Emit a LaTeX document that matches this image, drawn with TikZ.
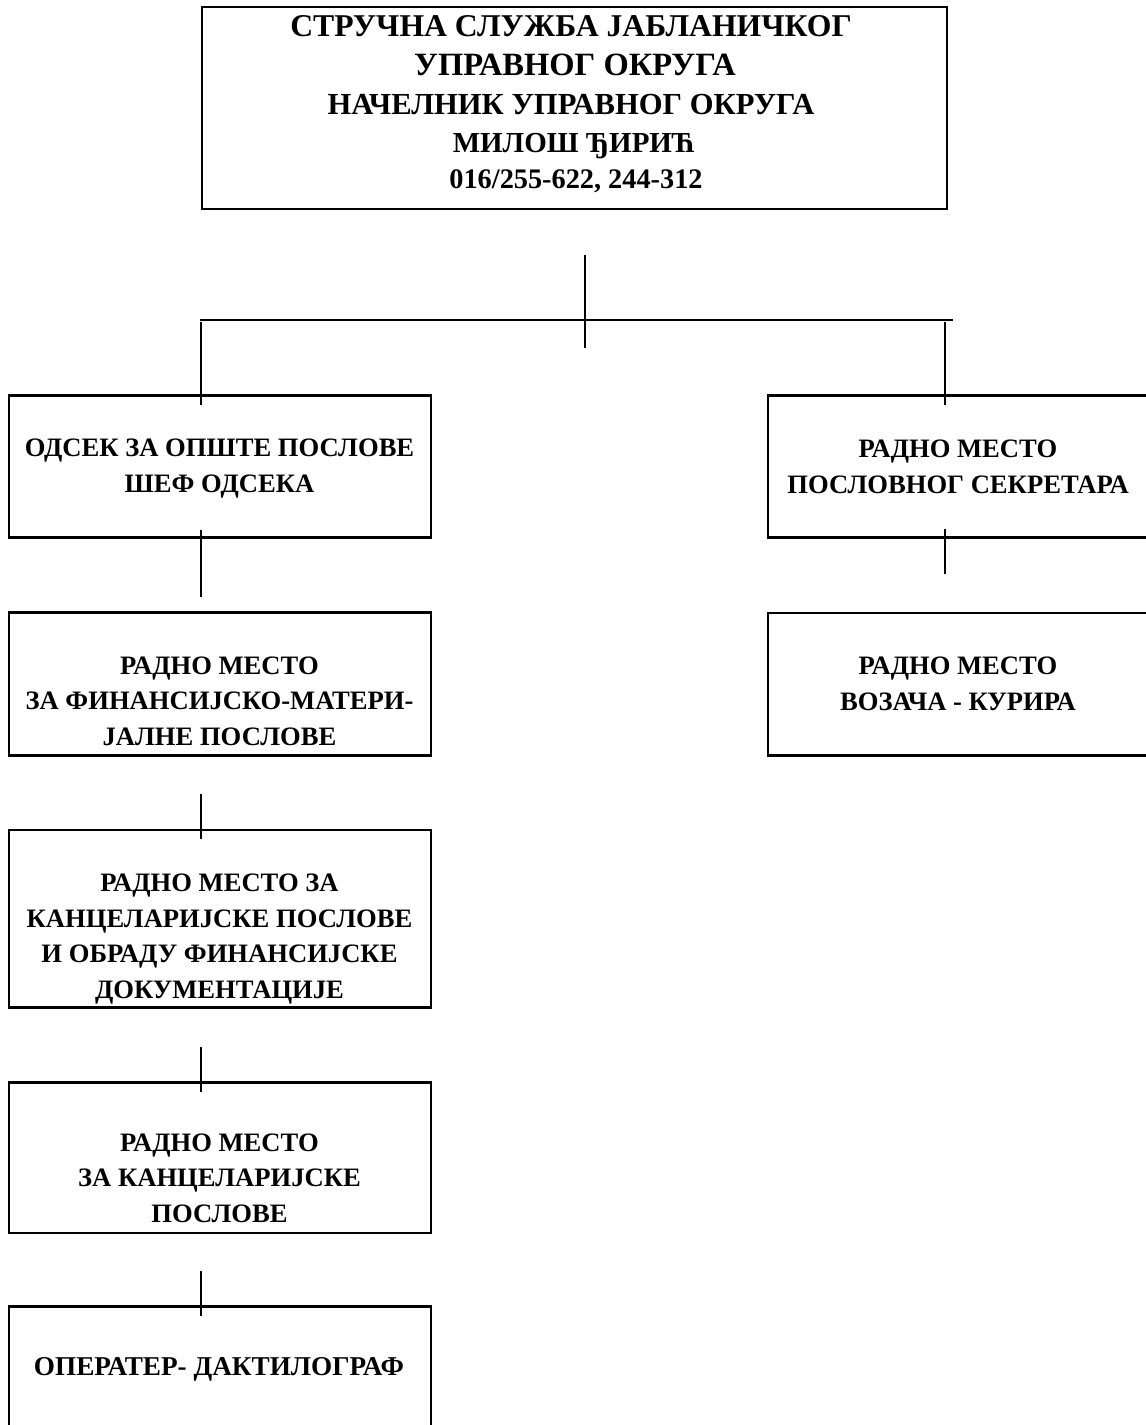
\documentclass[tikz,border=0pt]{standalone}
\usepackage{fontspec}
\setmainfont{Liberation Serif}
\begin{document}
\begin{tikzpicture}[x=1pt,y=-1pt,
  box/.style={draw, line width=2.7pt, rectangle, inner sep=0pt, minimum width=422pt},
  rbox/.style={draw, line width=2.7pt, rectangle, inner sep=0pt, minimum width=392pt},
  conn/.style={line width=2.2pt},
  hline/.style={line width=1.8pt},
  txt/.style={font=\fontsize{26.6}{35.5}\bfseries\selectfont, align=center, inner sep=0pt, anchor=base},
  topline/.style={font=\fontsize{#1}{38}\bfseries\selectfont, inner sep=0pt, anchor=base}]
\useasboundingbox (0,0) rectangle (1146,1425);

% boxes
\node[draw, line width=2.7pt, inner sep=0pt, minimum width=745pt, minimum height=202pt] (top) at (574.5,108) {};
\node[box, minimum height=141.6pt] (b1) at (220,466.5) {};
\node[box, minimum height=143pt] (b2) at (220,684.2) {};
\node[box, minimum height=177.7pt] (b3) at (220,918.85) {};
\node[box, minimum height=150.3pt] (b4) at (220,1157.85) {};
\node[box, minimum height=143.3pt] (b5) at (220,1378.35) {};
\node[rbox, minimum height=141.6pt] (r1) at (964,466.5) {};
\node[rbox, minimum height=142.7pt] (r2) at (964,684.35) {};

% texts of the top box
\node[topline=31.7] (tt1) at (571,36) {СТРУЧНА СЛУЖБА ЈАБЛАНИЧКОГ};
\node[topline=32.5] (tt2) at (575,75) {УПРАВНОГ ОКРУГА};
\node[topline=30.6] (tt3) at (571,114) {НАЧЕЛНИК УПРАВНОГ ОКРУГА};
\node[topline=29] (tt4) at (574,152) {МИЛОШ ЂИРИЋ};
\node[topline=28.3] (tt5) at (576,188) {016/255-622, 244-312};

% texts of the other boxes (anchor=base is the baseline of the last line)
\node[txt] (tb1) at (219.5,492) {ОДСЕК ЗА ОПШТЕ ПОСЛОВЕ\\ШЕФ ОДСЕКА};
\node[txt] (tb2) at (219.5,745) {РАДНО МЕСТО\\ЗА ФИНАНСИЈСКО-МАТЕРИ-\\ЈАЛНЕ ПОСЛОВЕ};
\node[txt] (tb3) at (219.5,998) {РАДНО МЕСТО ЗА\\КАНЦЕЛАРИЈСКЕ ПОСЛОВЕ\\И ОБРАДУ ФИНАНСИЈСКЕ\\ДОКУМЕНТАЦИЈЕ};
\node[txt] (tb4) at (219.5,1222) {РАДНО МЕСТО\\ЗА КАНЦЕЛАРИЈСКЕ\\ПОСЛОВЕ};
\node[txt, font=\fontsize{27.2}{35.5}\bfseries\selectfont] (tb5) at (219,1375) {ОПЕРАТЕР- ДАКТИЛОГРАФ};
\node[txt] (tr1) at (958,493) {РАДНО МЕСТО\\ПОСЛОВНОГ СЕКРЕТАРА};
\node[txt] (tr2) at (958,710) {РАДНО МЕСТО\\ВОЗАЧА - КУРИРА};

% connectors
\coordinate (hub) at (584.6,320);
\coordinate (hl) at (200.4,320);
\coordinate (hr) at (953,320);
\draw[conn] ([yshift=-44.3pt]top.south -| hub) -- ([yshift=-28pt]hub);
\draw[hline] (hl) -- (hr);
\draw[conn] ([xshift=-19pt,yshift=-11pt]b1.north |- 0,311) -- ([xshift=-19pt,yshift=-11pt]b1.north);
\draw[conn] ([xshift=-19.3pt,yshift=-11pt]r1.north |- 0,311) -- ([xshift=-19.3pt,yshift=-11pt]r1.north);
\draw[conn] ([xshift=-19pt,yshift=9pt]b1.south) -- ([xshift=-19pt,yshift=14.4pt]b2.north);
\draw[conn] ([xshift=-19pt,yshift=-37.3pt]b2.south) -- ([xshift=-19pt,yshift=-10pt]b3.north);
\draw[conn] ([xshift=-19pt,yshift=-38.3pt]b3.south) -- ([xshift=-19pt,yshift=-10.3pt]b4.north);
\draw[conn] ([xshift=-19pt,yshift=-37pt]b4.south) -- ([xshift=-19pt,yshift=-11pt]b5.north);
\draw[conn] ([xshift=-19.3pt,yshift=9.3pt]r1.south) -- ([xshift=-19.3pt,yshift=38pt]r2.north);
\end{tikzpicture}
\end{document}
